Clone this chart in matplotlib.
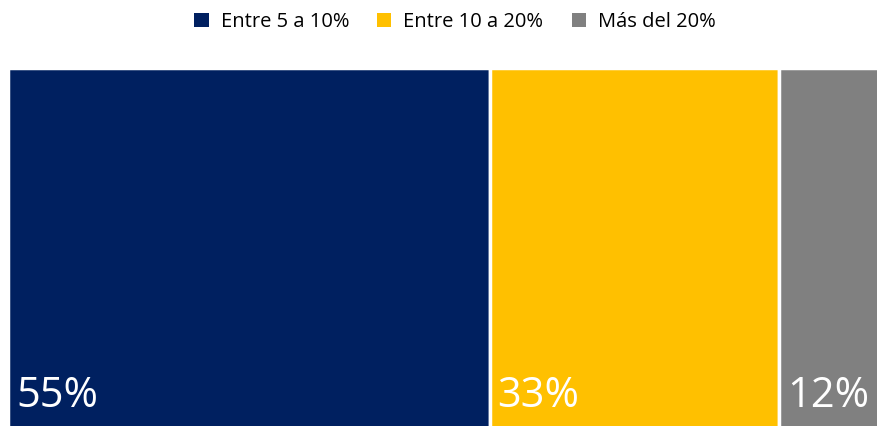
import matplotlib
matplotlib.use('Agg')
import matplotlib.pyplot as plt
from matplotlib.patches import Patch

plt.rcParams['font.family'] = ['Open Sans', 'DejaVu Sans']

categories = ['Entre 5 a 10%', 'Entre 10 a 20%', 'Más del 20%']
values = [55, 33, 12]
colors = ['#002060', '#FFC000', '#808080']

fig = plt.figure(figsize=(8.78, 4.26), dpi=100)
# axes runs a bit past the right and bottom edges, like the cropped original
ax = fig.add_axes([8 / 878, -3 / 426, 876 / 878, 361 / 426])

left = 0
for cat, v, c in zip(categories, values, colors):
    ax.barh(0, v, left=left, height=1, color=c, edgecolor='white', linewidth=2.5)
    ax.text(left + 0.9, -0.44, f'{v}%', color='white', fontsize=30,
            ha='left', va='baseline')
    left += v

ax.set_xlim(0, sum(values))
ax.set_ylim(-0.5, 0.5)
ax.axis('off')

handles = [Patch(facecolor=c, label=cat) for cat, c in zip(categories, colors)]
fig.legend(handles=handles, loc='center', bbox_to_anchor=(455 / 878, 1 - 22 / 426),
           ncol=3, frameon=False, fontsize=14.5, handlelength=0.7, handleheight=0.7,
           handletextpad=0.6, columnspacing=1.4)

fig.savefig('out.png', dpi=100)
